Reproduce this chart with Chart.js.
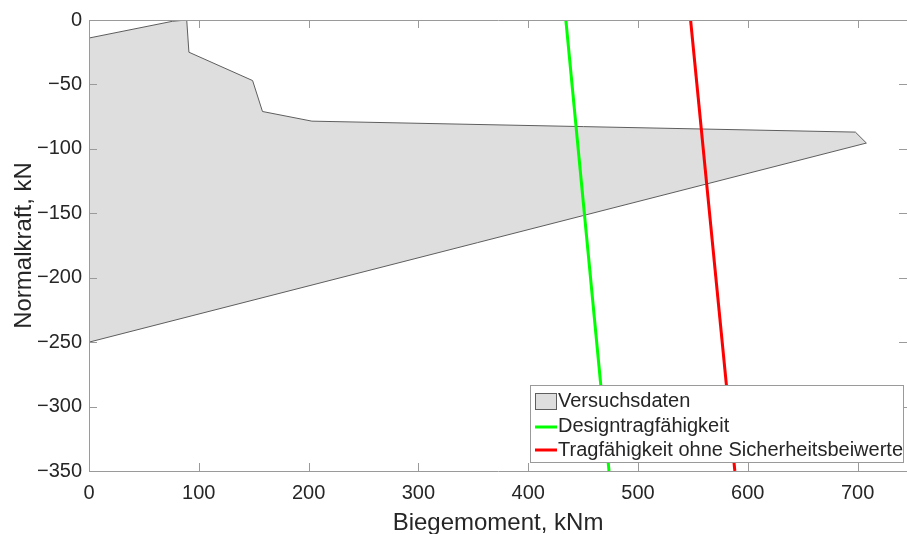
<!DOCTYPE html>
<html>
<head>
<meta charset="utf-8">
<script src="https://cdn.jsdelivr.net/npm/chart.js@4/dist/chart.umd.min.js"></script>
<style>
  html, body { margin: 0; padding: 0; background: #ffffff; }
  canvas { display: block; }
</style>
</head>
<body>
<canvas id="c" width="907" height="534"></canvas>
<script>
// Axis ticks
const xTicks = [0, 100, 200, 300, 400, 500, 600, 700];
const yTicks = [0, -50, -100, -150, -200, -250, -300, -350];

// Test data envelope (closed outline), moment in kNm / normal force in kN
const testMoment = [0, 76, 89, 91, 149, 158, 203, 698, 708, 0, 0];
const testForce  = [-14, -1, 0, -25, -47, -71, -78.5, -87, -95.5, -250, -14];

// Design capacity line
const designMoment = [434.3, 473.6];
const designForce  = [0, -350];

// Capacity without safety factors
const charMoment = [547.9, 588.2];
const charForce  = [0, -350];

const seriesNames = ['Versuchsdaten', 'Designtragfähigkeit', 'Tragfähigkeit ohne Sicherheitsbeiwerte'];
const xTitle = 'Biegemoment, kNm';
const yTitle = 'Normalkraft, kN';

const FONT = '"Liberation Sans", Arial, sans-serif';
const TEXT = '#262626';
const AXIS = '#9a9a9a';
const FILL = '#dedede';
const EDGE = '#5e5e5e';
const GREEN = '#00ff00';
const RED = '#ff0000';

const zip = (xs, ys) => xs.map((x, i) => ({ x: x, y: ys[i] }));
const fmt = v => (v < 0 ? '\u2212' + Math.abs(v) : String(v));

// Box with inward tick marks on all four sides
const framePlugin = {
  id: 'frame',
  afterDatasetsDraw(chart) {
    const { ctx, chartArea: a, scales } = chart;
    const tl = 8;
    ctx.save();
    ctx.strokeStyle = AXIS;
    ctx.lineWidth = 1;
    ctx.beginPath();
    ctx.rect(Math.round(a.left) + 0.5, Math.round(a.top) + 0.5,
             Math.round(a.right - a.left), Math.round(a.bottom - a.top));
    xTicks.forEach(v => {
      const px = Math.round(scales.x.getPixelForValue(v)) + 0.5;
      ctx.moveTo(px, a.bottom); ctx.lineTo(px, a.bottom - tl);
      ctx.moveTo(px, a.top); ctx.lineTo(px, a.top + tl);
    });
    yTicks.forEach(v => {
      const py = Math.round(scales.y.getPixelForValue(v)) + 0.5;
      ctx.moveTo(a.left, py); ctx.lineTo(a.left + tl, py);
      ctx.moveTo(a.right, py); ctx.lineTo(a.right - tl, py);
    });
    ctx.stroke();
    ctx.restore();
  }
};

// Axis titles
const titlePlugin = {
  id: 'axisTitles',
  afterDraw(chart) {
    const { ctx, chartArea: a } = chart;
    ctx.save();
    ctx.fillStyle = TEXT;
    ctx.font = '24px ' + FONT;
    ctx.textAlign = 'center';
    ctx.textBaseline = 'alphabetic';
    ctx.fillText(xTitle, (a.left + a.right) / 2, 530);
    ctx.translate(31, (a.top + a.bottom) / 2);
    ctx.rotate(-Math.PI / 2);
    ctx.fillText(yTitle, 0, 0);
    ctx.restore();
  }
};

// Legend box in the lower right corner of the plot
const legendPlugin = {
  id: 'boxLegend',
  afterDraw(chart) {
    const { ctx } = chart;
    const bx = 530.5, by = 385.5, bw = 373, bh = 77;
    ctx.save();
    ctx.fillStyle = '#ffffff';
    ctx.fillRect(bx, by, bw, bh);
    ctx.strokeStyle = AXIS;
    ctx.lineWidth = 1;
    ctx.strokeRect(bx, by, bw, bh);
    ctx.font = '20px ' + FONT;
    ctx.textAlign = 'left';
    ctx.textBaseline = 'middle';
    const rows = [401, 426, 450];
    // area patch
    ctx.fillStyle = FILL;
    ctx.fillRect(535.5, 393.5, 21, 16);
    ctx.strokeStyle = EDGE;
    ctx.strokeRect(535.5, 393.5, 21, 16);
    // line samples
    ctx.lineWidth = 3;
    ctx.strokeStyle = GREEN;
    ctx.beginPath(); ctx.moveTo(535, rows[1] + 1); ctx.lineTo(557, rows[1] + 1); ctx.stroke();
    ctx.strokeStyle = RED;
    ctx.beginPath(); ctx.moveTo(535, rows[2]); ctx.lineTo(557, rows[2]); ctx.stroke();
    ctx.fillStyle = TEXT;
    seriesNames.forEach((n, i) => ctx.fillText(n, 558, rows[i]));
    ctx.restore();
  }
};

new Chart(document.getElementById('c'), {
  type: 'scatter',
  data: {
    datasets: [
      {
        label: seriesNames[0],
        data: zip(testMoment, testForce),
        showLine: true,
        fill: 'shape',
        backgroundColor: FILL,
        borderColor: EDGE,
        borderWidth: 1,
        pointRadius: 0,
        tension: 0,
        order: 2
      },
      {
        label: seriesNames[1],
        data: zip(designMoment, designForce),
        showLine: true,
        fill: false,
        borderColor: GREEN,
        backgroundColor: GREEN,
        borderWidth: 3,
        pointRadius: 0,
        order: 1
      },
      {
        label: seriesNames[2],
        data: zip(charMoment, charForce),
        showLine: true,
        fill: false,
        borderColor: RED,
        backgroundColor: RED,
        borderWidth: 3,
        pointRadius: 0,
        order: 0
      }
    ]
  },
  options: {
    responsive: false,
    devicePixelRatio: 1,
    animation: false,
    layout: { padding: { top: 20, right: -2, left: 0, bottom: 0 } },
    plugins: {
      legend: { display: false },
      tooltip: { enabled: false }
    },
    scales: {
      x: {
        type: 'linear',
        min: 0,
        max: 745,
        grid: { display: false, drawTicks: false },
        border: { display: false },
        afterFit(s) { s.height = 63; },
        afterBuildTicks(s) { s.ticks = xTicks.map(v => ({ value: v })); },
        ticks: {
          padding: 10,
          color: TEXT,
          font: { family: FONT, size: 20 },
          maxRotation: 0,
          autoSkip: false,
          callback: v => fmt(v)
        }
      },
      y: {
        type: 'linear',
        min: -350,
        max: 0,
        grid: { display: false, drawTicks: false },
        border: { display: false },
        afterFit(s) { s.width = 89; },
        afterBuildTicks(s) { s.ticks = yTicks.map(v => ({ value: v })); },
        ticks: {
          padding: 7,
          color: TEXT,
          font: { family: FONT, size: 20 },
          autoSkip: false,
          callback: v => fmt(v)
        }
      }
    }
  },
  plugins: [framePlugin, titlePlugin, legendPlugin]
});
</script>
</body>
</html>
